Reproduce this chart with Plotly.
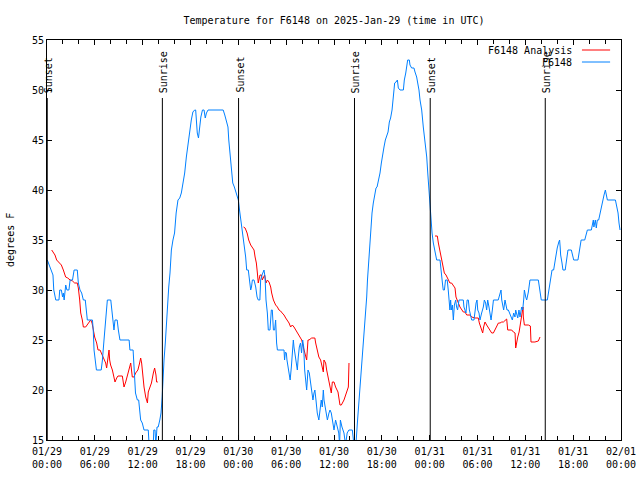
import plotly.graph_objects as go

# ---------------- data (hours since 2025-01-29 00:00 UTC) ----------------
obs_hours = [0.04,0.25,0.5,0.75,0.85,0.95,1.1,1.5,1.6,1.8,1.95,2.05,2.15,2.35,2.5,2.75,2.9,3.2,3.4,3.8,3.93,4.14,4.35,4.56,4.8,4.93,5.06,5.7,5.8,5.9,6.0,6.2,6.8,6.95,7.15,7.35,7.57,8.0,8.15,8.28,8.4,8.53,8.8,8.95,9.15,10.3,10.4,10.8,10.9,11.1,11.33,11.5,11.66,11.75,11.95,12.17,12.7,12.85,13.3,13.4,13.55,13.65,13.8,
    13.95,14.15,14.3,14.45,14.55,14.68,14.84,14.95,15.1,15.27,15.43,15.6,15.8,16.0,16.2,16.43,16.65,16.85,17.06,17.27,17.48,17.7,17.9,18.1,18.3,18.52,18.65,18.73,18.85,19.0,19.15,19.3,19.5,19.7,19.85,20.0,20.2,22.1,22.3,22.5,22.7,22.8,23.0,23.2,23.3,23.5,23.8,24.0,
    24.15,24.3,24.5,24.6,24.8,24.92,25.05,25.25,25.4,25.55,25.65,25.76,25.97,26.18,26.35,26.5,26.7,26.8,26.97,27.1,27.22,27.35,27.47,27.64,27.76,27.97,28.14,28.26,28.4,28.55,28.68,28.8,28.9,29.73,29.8,29.9,30.02,30.1,30.27,30.4,30.5,30.65,30.77,30.9,30.98,31.1,31.23,31.4,31.52,31.65,31.8,31.93,32.07,32.2,32.32,32.45,32.57,32.74,32.9,33.07,33.2,33.36,33.49,33.6,33.74,33.9,34.1,34.24,34.4,34.53,34.66,34.75,34.96,35.17,35.37,35.5,35.66,35.83,36.0,36.2,36.4,36.6,36.7,36.8,37.0,37.25,37.45,37.65,37.87,38.3,38.5,38.75,38.93,
    39.05,39.18,39.35,39.5,39.68,39.76,39.89,40.0,40.1,40.2,40.35,40.5,40.6,40.77,40.93,41.1,41.27,41.4,41.6,41.77,41.94,42.1,42.27,42.44,42.6,42.78,42.94,43.1,43.28,43.44,43.61,43.78,43.95,44.07,44.28,44.7,44.82,45.0,45.12,45.24,45.45,45.53,45.74,46.03,46.16,46.37,46.5,46.66,46.79,47.0,47.2,47.42,47.63,47.76,47.88,48.05,
    48.17,48.3,48.46,48.6,48.75,48.88,49.3,49.42,49.6,49.7,49.85,49.99,50.2,50.33,50.46,50.54,50.63,50.72,50.85,50.97,51.1,51.26,51.38,51.5,51.68,52.22,52.3,52.43,52.55,52.7,52.85,52.98,53.12,53.27,53.56,53.69,53.82,53.94,54.03,54.19,54.31,54.52,54.73,54.86,55.02,55.15,55.28,55.44,55.57,55.7,55.86,56.0,56.6,56.78,56.95,57.04,57.15,57.28,57.45,57.58,57.7,57.87,58.0,58.16,58.37,58.54,58.7,58.79,58.92,59.05,59.2,59.33,59.54,59.67,59.79,59.88,60.05,60.17,60.38,60.58,61.63,61.84,62.0,62.76,62.9,63.05,63.2,63.35,63.55,63.68,63.85,64.0,64.2,64.3,64.37,64.43,64.6,64.72,65.0,65.14,65.35,65.77,65.95,66.07,66.6,66.72,66.86,67.0,67.45,67.65,67.78,68.28,68.4,68.53,68.6,68.78,68.9,69.03,69.2,69.37,69.53,69.7,69.87,70.04,70.15,70.29,71.3,71.46,71.63,71.75,71.88]
obs_temps = [33.0,32.5,32,31.5,30,29.7,29,29,30,30,29.3,29.7,29,30.5,30,30,31,31,32,32,30.7,30,29.7,29,29,28,27,27,26,24,23.3,22,22,23,25,27,29,29,27.7,27,26,27,27,26,25,25,24,24,22,19.7,19,19,17.7,17,16.7,16,16,14,14,16,16,14.5,16.3,
    16.3,17,17.7,19.3,21.7,23,24.7,26.3,28,30.3,31.7,34,35,35.7,37.7,39,39.2,39.7,40.7,41.7,43.3,44.7,45.7,47,47.8,48,48,47,45.7,45.2,46.3,47.3,48,48,47.2,47.7,48,48,47.5,47,46.3,45,43.3,41.7,40.7,40.3,39.5,39,
    38,37,36,35.3,34.3,33.3,32,32,31,30,30.3,31,31,30.3,29.3,29,29,31,31.5,31.7,32,31.3,29,27.7,26,26,28,28,26,26,27,24.7,24,24,23,23.8,23.7,23,22.3,21.7,21,22.3,24.3,25,24.3,23.7,22.7,22,23.3,24.3,24.7,23.7,25,24.3,22,20.7,20,22,21.7,20.7,19.7,19,19.7,20,19,17.7,17,18.3,19,18.3,20,19,18,17,17.7,18,17.7,17,16,17,16.3,15.7,14.5,17,16.3,15.7,14.5,15.7,16,16,14.5,14.5,16.7,
    18,19,20.3,22,24,25.7,26.7,27.7,29.3,31,33,35,36,37.7,38.7,39.7,40.2,40.3,41,41.7,42.7,43.7,44.3,45,45.3,45.8,46.8,47.2,48,49.3,50.7,50.8,51,50.2,50,50,51,51.7,52.7,53,53,52.5,52.2,52.2,51.8,51.3,50.7,50,49,48,46.3,45,43.3,41.7,40.3,38.7,
    36.7,35.7,34.7,34,33.7,33,33,31.7,30.7,30,30,31,31,30,29,28,29,28,28.5,27,28.5,29,28.3,28,29,29,28.3,28,27.7,29,29,28,27.3,27,27,28,28.7,29,28,27.7,27,27.7,28.3,29,28.7,28,29,28.3,27.7,27,28,29,29,29.7,30,29,28.3,28,29,28.3,28,28,27.7,27.5,27,27.7,27.3,28,27.7,27.2,28,27.3,28.3,28,29,30,29.3,29,29.8,31,31,30,29,29,29.7,30.5,31.5,32,32,32.7,33.3,34.2,34.8,35,34.3,33.5,32.7,32,32,33,34,34,33.3,33,33,33.7,34.3,35,35,35.7,36,36,36.7,37,36.3,37,36.2,37,37,37.7,38.3,38.8,39.5,40,39.6,39,39,38.3,37.7,36.7,36]

ana_hours = [0.59,0.8,1.0,1.21,1.5,1.8,2.05,2.34,2.6,2.9,3.2,3.47,3.8,3.93,4.1,4.23,4.43,4.56,4.85,5.06,5.48,5.65,5.81,5.98,6.23,6.4,6.65,6.94,7.15,7.36,7.48,7.65,7.78,7.86,7.98,8.2,8.4,8.53,8.74,8.9,9.45,9.66,9.87,10.08,10.29,10.5,10.7,10.91,11.12,11.4,11.62,11.75,11.87,12.04,12.17,12.38,12.6,12.7,12.92,13.1,13.34,13.5,13.67,13.75,13.9,
    None,
    24.65,24.85,25.1,25.3,25.55,25.76,25.97,26.1,26.26,26.39,26.5,26.72,26.9,27.0,27.13,27.3,27.47,27.64,27.85,28.06,28.18,28.4,28.68,28.9,29.1,29.3,29.5,29.73,29.94,30.15,30.36,30.56,30.77,30.98,31.2,31.4,31.6,31.8,31.95,32.15,32.32,32.57,32.74,32.86,33.2,33.6,33.7,33.9,34.1,34.32,34.5,34.66,34.74,34.95,35.08,35.3,35.5,35.66,35.79,36.0,36.2,36.5,36.75,36.92,37.25,37.6,37.8,37.88,
    None,
    48.67,48.96,49.09,49.3,49.5,49.7,49.84,50.05,50.33,50.54,50.75,50.97,51.18,51.3,51.47,51.6,51.8,52.0,52.22,52.43,52.65,53.06,53.27,53.69,54.1,54.23,54.4,54.52,54.65,54.77,54.94,55.15,55.36,55.57,55.78,55.99,56.2,56.41,56.62,56.83,57.04,57.25,57.45,57.66,57.79,58.29,58.5,58.71,58.79,58.92,59.05,59.22,59.38,59.54,59.71,59.75,59.88,60.38,60.63,60.71,61.2,61.63,61.84]
ana_temps = [34,33.8,33.5,33,32.7,32.5,32,31.3,31.2,31,30.9,30.7,30.7,30.2,29,27.7,27,26.3,26.3,26.5,27,26.7,26,25.3,24.7,24,24,23.5,23,22.7,22.2,23.5,24,23,22.5,22,21.3,20.8,21.2,21.4,21.4,20.3,20.8,21.5,22.2,22.7,21.3,21.3,21.7,22,22.7,23.2,22.7,21.3,20.3,19.3,18.7,19.8,20.2,20.7,21.7,22.2,21.5,20.8,20.8,
    None,
    36.3,36.2,35.7,35,34.5,34.3,34,33.3,32.7,31.7,30.7,31.5,31.5,31,31.3,31.5,30.7,31,30.8,30.3,29.7,29,28.5,28.3,28,27.9,27.7,27.5,27.2,27,26.7,26.3,26.5,26.3,26,25.8,25.5,25.3,25,24.3,23.7,23,25,25,25.2,25.2,24.7,24,23.3,23,22.2,21.8,23,22.7,22,21,20.3,19.7,20.8,20.8,20.3,19.8,18.5,18.5,19,19.7,20.3,22.7,
    None,
    35.4,35.4,34.7,33.8,33.3,32.3,31.7,31.5,31,30.7,30.7,30.5,30.2,29.3,28.8,28.7,28.3,28,27.8,27.8,27.5,27.5,27.3,27.2,27.2,26.7,26.3,26.2,25.7,26.3,26.8,26.5,26.2,25.9,25.7,25.7,26,26.3,26.7,26.7,26.8,26.8,27,27.1,26,26,25.8,25.7,24.2,25,25.3,25.8,26.7,27.3,28.3,27.3,26.5,26.5,26.4,24.8,24.8,24.9,25.3]

event_names = ["Sunset", "Sunrise", "Sunset", "Sunrise", "Sunset", "Sunrise"]
event_hours = [0.03, 14.47, 24.03, 38.57, 48.07, 62.5]

tick_hours = [0, 6, 12, 18, 24, 30, 36, 42, 48, 54, 60, 66, 72]
tick_labels = ["01/29<br>00:00", "01/29<br>06:00", "01/29<br>12:00", "01/29<br>18:00",
               "01/30<br>00:00", "01/30<br>06:00", "01/30<br>12:00", "01/30<br>18:00",
               "01/31<br>00:00", "01/31<br>06:00", "01/31<br>12:00", "01/31<br>18:00",
               "02/01<br>00:00"]

series_names = ["F6148 Analysis", "F6148"]
series_colors = ["#ff0000", "#0080ff"]

# ---------------- figure ----------------
FONT = "DejaVu Sans Mono"
fig = go.Figure()
fig.add_trace(go.Scatter(x=ana_hours, y=ana_temps, mode="lines", name=series_names[0],
                         line=dict(color=series_colors[0], width=1), connectgaps=False))
fig.add_trace(go.Scatter(x=obs_hours, y=obs_temps, mode="lines", name=series_names[1],
                         line=dict(color=series_colors[1], width=1)))

LINE_TOP = 49.2
for name, h in zip(event_names, event_hours):
    fig.add_shape(type="line", xref="x", yref="y", x0=h, x1=h, y0=15, y1=LINE_TOP,
                  line=dict(color="black", width=1), layer="above")
    fig.add_annotation(x=h, y=LINE_TOP + 0.3, xref="x", yref="y", text=name, textangle=-90,
                       showarrow=False, xanchor="center", yanchor="bottom",
                       font=dict(family=FONT, size=10, color="black"), xshift=1)

# legend drawn gnuplot-style (text left, sample right)
leg_y = [0.975, 0.945]
for name, col, yy in zip(series_names, series_colors, leg_y):
    fig.add_annotation(x=0.918, y=yy, xref="paper", yref="paper", text=name, showarrow=False,
                       xanchor="right", yanchor="middle",
                       font=dict(family=FONT, size=10, color="black"))
    fig.add_shape(type="line", xref="paper", yref="paper", x0=0.932, x1=0.981, y0=yy, y1=yy,
                  line=dict(color=col, width=1))

fig.add_annotation(x=-0.0645, y=0.5, xref="paper", yref="paper", text="degrees F",
                   textangle=-90, showarrow=False, xanchor="center", yanchor="middle",
                   font=dict(family=FONT, size=10, color="black"))

axis_common = dict(showline=True, linecolor="black", linewidth=1, mirror="allticks",
                   ticks="inside", tickcolor="black", showgrid=False, zeroline=False,
                   automargin=False,
                   tickfont=dict(family=FONT, size=10, color="black"))
fig.update_xaxes(range=[0, 72], tickvals=tick_hours, ticktext=tick_labels, ticklen=5,
                 ticklabelstandoff=2,
                 minor=dict(dtick=2, tick0=0, ticks="inside", ticklen=4, tickcolor="black", showgrid=False),
                 **axis_common)
fig.update_yaxes(range=[15, 55], tick0=15, dtick=5, ticklen=5, **axis_common)

fig.update_layout(
    width=640, height=480, autosize=False,
    margin=dict(l=47, r=19, t=40, b=40, pad=0),
    plot_bgcolor="white", paper_bgcolor="white",
    showlegend=False,
    title=dict(text="Temperature for F6148 on 2025-Jan-29 (time in UTC)",
               x=334 / 640, xanchor="center", y=1 - 20 / 480, yanchor="middle",
               font=dict(family=FONT, size=10, color="black")),
    font=dict(family=FONT, size=10, color="black"),
)

# remove the default 8px page margin synchronously (runs while the page is parsed)
zero_margin = "}); document.body.style.margin = '0px'; (function(){"
fig.write_html("out.html", config={"displayModeBar": False}, post_script=zero_margin)
